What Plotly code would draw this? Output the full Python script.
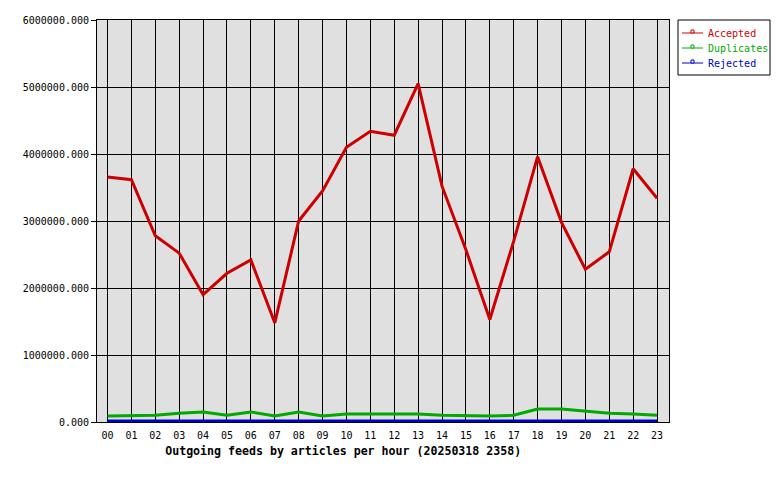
import plotly.graph_objects as go

hours = ["%02d" % h for h in range(24)]

accepted = [3657000, 3616000, 2780000, 2520000, 1900000, 2220000, 2420000, 1480000,
            3000000, 3450000, 4100000, 4340000, 4280000, 5050000, 3520000, 2570000,
            1530000, 2700000, 3960000, 2980000, 2280000, 2540000, 3780000, 3340000]
duplicates = [90000, 90000, 100000, 130000, 150000, 100000, 150000, 90000,
              150000, 90000, 120000, 120000, 120000, 120000, 100000, 90000,
              90000, 100000, 195000, 195000, 165000, 130000, 120000, 100000]
rejected = [15000] * 24

series = [
    ("Accepted", accepted, "#cc0000"),
    ("Duplicates", duplicates, "#00aa00"),
    ("Rejected", rejected, "#0000cc"),
]

mono = "DejaVu Sans Mono"

# plot area in pixels
L, R, T, B = 97, 669, 20, 422


def px(x):
    return (x - L) / (R - L)


def py(y):
    return (B - y) / (B - T)


fig = go.Figure()

# thick lines on the chart (rejected first so accepted ends up on top)
for name, vals, col in reversed(series):
    fig.add_trace(go.Scatter(
        x=hours, y=vals, mode="lines", name=name,
        line=dict(color=col, width=3), showlegend=False,
    ))

# legend box drawn by hand: thin line + small square + coloured name
shapes = [dict(type="rect", xref="paper", yref="paper",
               x0=px(678), x1=px(770), y0=py(20), y1=py(75),
               line=dict(color="black", width=1), fillcolor="white", layer="above")]
annotations = []
for i, (name, vals, col) in enumerate(series):
    ry = 33 + 15 * i
    shapes.append(dict(type="line", xref="paper", yref="paper",
                       x0=px(682), x1=px(703), y0=py(ry), y1=py(ry),
                       line=dict(color=col, width=1), layer="above"))
    shapes.append(dict(type="rect", xref="paper", yref="paper",
                       x0=px(691), x1=px(694), y0=py(ry), y1=py(ry - 3),
                       line=dict(color=col, width=1), fillcolor="white", layer="above"))
    annotations.append(dict(xref="paper", yref="paper", x=px(706), y=py(ry),
                            xanchor="left", yanchor="middle", showarrow=False,
                            text=name, font=dict(family=mono, size=10, color=col)))

fig.update_layout(
    width=780, height=480,
    margin=dict(l=L, r=780 - R, t=T, b=480 - B, autoexpand=False),
    paper_bgcolor="white",
    plot_bgcolor="#e0e0e0",
    font=dict(family=mono, size=10, color="black"),
    title=dict(
        text="<b>Outgoing feeds by articles per hour (20250318 2358)</b>",
        font=dict(family=mono, size=11.6, color="black"),
        x=0.44, xanchor="center", xref="container",
        y=1 - 451 / 480, yanchor="middle", yref="container",
    ),
    showlegend=False,
    shapes=shapes,
    annotations=annotations,
)

fig.update_xaxes(
    type="category", range=[-0.44, 23.5],
    showgrid=True, gridcolor="black", gridwidth=1,
    showline=True, linecolor="black", linewidth=1, mirror=True,
    ticks="outside", ticklen=4, tickcolor="rgba(0,0,0,0)",
    zeroline=False,
)
fig.update_yaxes(
    range=[0, 6000000], dtick=1000000, tickformat=".3f",
    showgrid=True, gridcolor="black", gridwidth=1,
    showline=True, linecolor="black", linewidth=1, mirror=True,
    ticks="outside", ticklen=5, tickcolor="black",
    zeroline=False,
)

# page sits flush at the top-left corner of the window
fig.write_html("out.html", config={"displayModeBar": False},
               post_script="document.body.style.margin='0';document.body.style.overflow='hidden';")
